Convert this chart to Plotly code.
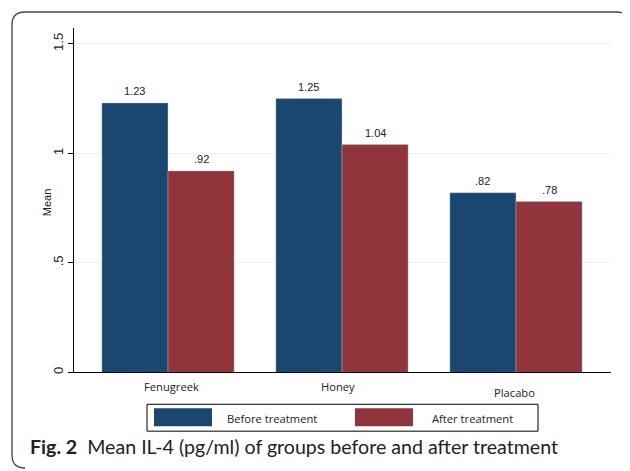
import plotly.graph_objects as go

# ---- data ----
groups = ["Fenugreek", "Honey", "Placabo"]
series_names = ["Before treatment", "After treatment"]
before = [1.23, 1.25, 0.82]
after = [0.92, 1.04, 0.78]
series_values = [before, after]
series_colors = ["#1a476f", "#90353b"]
y_tickvals = [0, 0.5, 1, 1.5]
y_ticktext = ["0", ".5", "1", "1.5"]

OFF = 8  # page body margin
W, H = 630 - OFF, 471 - OFF
def px(x):
    return (x - OFF) / W
def py(y):
    return 1 - (y - OFF) / H

bar_w = 0.38
offsets = [-bar_w / 2, bar_w / 2]
idx = list(range(len(groups)))

fig = go.Figure()
for name, vals, col, off in zip(series_names, series_values, series_colors, offsets):
    fig.add_trace(go.Bar(
        x=[i + off for i in idx], y=vals, width=bar_w, name=name,
        marker=dict(color=col, line=dict(color="rgba(200,210,220,0.6)", width=0.6)),
        showlegend=False,
    ))

annotations = []
# value labels
for vals, off in zip(series_values, offsets):
    for i, v in zip(idx, vals):
        s = f"{v:.2f}"
        if s.startswith("0"):
            s = s[1:]
        annotations.append(dict(x=i + off, y=v, xref="x", yref="y", text=s,
                                showarrow=False, yshift=12, yanchor="middle",
                                font=dict(family="Arial", size=11, color="#222")))
# category labels (slightly irregular placement as in the original)
label_y = [388, 388, 394]
label_dx = [3, -4, -2]
for i, g in enumerate(groups):
    annotations.append(dict(x=i, y=py(label_y[i]), xref="x", yref="paper", text=g,
                            showarrow=False, xanchor="center", yanchor="middle",
                            xshift=label_dx[i],
                            font=dict(family="Open Sans", size=11.2, color="#222")))
# legend
shapes = [dict(type="rect", xref="paper", yref="paper", x0=px(147), x1=px(538),
               y0=py(433), y1=py(406), line=dict(color="black", width=1))]
sw_x = [154, 355]
txt_x = [225, 430]
for name, col, sx, tx in zip(series_names, series_colors, sw_x, txt_x):
    shapes.append(dict(type="rect", xref="paper", yref="paper", x0=px(sx), x1=px(sx + 58),
                       y0=py(428), y1=py(410), fillcolor=col, line=dict(width=0)))
    annotations.append(dict(x=px(tx), y=py(420), xref="paper", yref="paper", text=name,
                            showarrow=False, xanchor="left", yanchor="middle",
                            font=dict(family="Open Sans", size=11.2, color="#222")))
# caption
annotations.append(dict(x=px(28), y=py(448), xref="paper", yref="paper",
                        text="<b>Fig. 2</b>\u00a0\u00a0Mean IL-4 (pg/ml) of groups before and after treatment",
                        showarrow=False, xanchor="left", yanchor="middle",
                        font=dict(family="Lato", size=19.6, color="#222")))
# y title
annotations.append(dict(x=px(47), y=py(203), xref="paper", yref="paper", text="Mean",
                        showarrow=False, textangle=-90, xanchor="center", yanchor="middle",
                        font=dict(family="Arial", size=11, color="#222")))

# outer rounded border
def P(x, y):
    return f"{px(x):.5f},{py(y):.5f}"
path = (f"M {P(25,470)} Q {P(12,470)} {P(12,457)} L {P(12,25)} Q {P(12,12)} {P(25,12)} "
        f"L {P(617,12)} Q {P(629,12)} {P(629,24)}")
shapes.append(dict(type="path", xref="paper", yref="paper", path=path,
                   line=dict(color="#444", width=1.3)))

fig.update_layout(
    width=W, height=H, autosize=False,
    margin=dict(l=0, r=0, t=0, b=0),
    paper_bgcolor="white", plot_bgcolor="white",
    barmode="overlay",
    annotations=annotations, shapes=shapes,
    xaxis=dict(domain=[px(74), px(611)], range=[(74 - 168) / 174, (611 - 168) / 174],
               showline=True, linecolor="black", linewidth=1, showticklabels=False,
               ticks="", showgrid=False, zeroline=False),
    yaxis=dict(domain=[py(374), py(28)], range=[0, (374 - 28) / 220],
               tickvals=y_tickvals, ticktext=y_ticktext, tickangle=-90,
               ticks="outside", ticklen=5, tickcolor="black",
               showline=True, linecolor="black", linewidth=1,
               showgrid=True, gridcolor="#eaf2f3", gridwidth=1, zeroline=False,
               tickfont=dict(family="Arial", size=13, color="#222")),
)
fig.write_html("out.html")
